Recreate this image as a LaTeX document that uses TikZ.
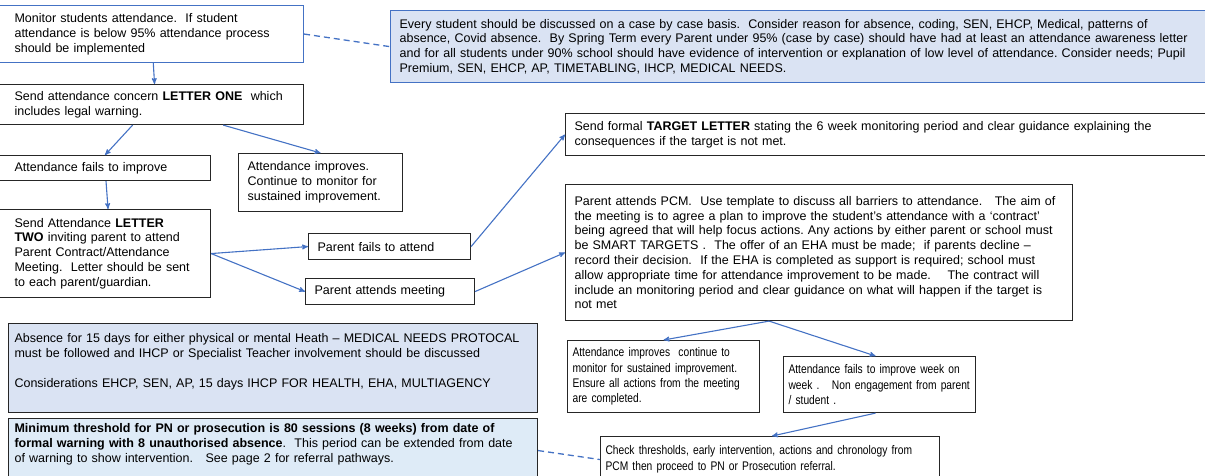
\documentclass[tikz,border=0pt]{standalone}
\usepackage{fontspec}
\setmainfont{Liberation Sans}
\newfontfamily\narrowfont{Liberation Sans}[FakeStretch=0.82]
\usepackage{tikz}
\usetikzlibrary{arrows}
\frenchspacing

\definecolor{msblue}{HTML}{4472C4}
\definecolor{notefill}{HTML}{DAE3F3}
\definecolor{lightfill}{HTML}{DEEBF7}
\definecolor{boxline}{HTML}{262626}

\begin{document}
\begin{tikzpicture}[x=1pt,y=-1pt,->,>=stealth',semithick]
\tikzstyle{every node}=[font=\fontsize{12.5}{14.8}\selectfont]
\tikzset{box/.style={draw=boxline,fill=white,anchor=north west,align=left,
                     inner xsep=9pt,inner ysep=0pt,line width=1.1pt},
         cutbox/.style={box,inner xsep=15pt},
         bluebox/.style={cutbox,draw=msblue},
         notebox/.style={box,draw=msblue,fill=notefill,line width=1.3pt},
         narrow/.style={box,font=\narrowfont\fontsize{12.5}{15.2}\selectfont,inner xsep=5pt},
         link/.style={every edge/.append style={draw=msblue,line width=1.1pt}},
         dashlink/.style={every edge/.append style={-,draw=msblue,line width=1.3pt,dash pattern=on 6pt off 4pt}}}
\useasboundingbox (0,0) rectangle (1205,475);

        % left column
        \node[bluebox, text width=274pt, minimum height=57pt]  (monitor)   at (-1,5)
             {Monitor students attendance.\ \ If student\\ attendance is below 95\% attendance process\\ should be implemented};
        \node[cutbox, text width=274pt, minimum height=40pt]   (letterone) at (-1,84)
             {Send attendance concern \textbf{LETTER ONE}\ \ which\\ includes legal warning.};
        \node[cutbox, text width=181pt, minimum height=25pt]   (fails)     at (-1,155)
             {Attendance fails to improve};
        \node[box, text width=146pt, minimum height=58pt]      (improves)  at (238,153)
             {Attendance improves.\\ Continue to monitor for\\ sustained improvement.};
        \node[cutbox, text width=181pt, minimum height=88pt]   (lettertwo) at (-1,209)
             {Send Attendance \textbf{LETTER}\\ \textbf{TWO} inviting parent to attend\\ Parent Contract/Attendance\\ Meeting.\ \ Letter should be sent\\ to each parent/guardian.};
        \node[box, text width=144pt, minimum height=26pt]      (noattend)  at (308,233)
             {Parent fails to attend};
        \node[box, text width=151pt, minimum height=26pt]      (attends)   at (305,278)
             {Parent attends meeting};

        % notes
        \node[notebox, text width=812pt, minimum height=72pt]  (every)     at (390,10)
             {Every student should be discussed on a case by case basis.\ \ Consider reason for absence, coding, SEN, EHCP, Medical, patterns of\\ absence, Covid absence.\ \ By Spring Term every Parent under 95\% (case by case) should have had at least an attendance awareness letter\\ and for all students under 90\% school should have evidence of intervention or explanation of low level of attendance. Consider needs; Pupil\\ Premium, SEN, EHCP, AP, TIMETABLING, IHCP, MEDICAL NEEDS.};
        \node[box, fill=notefill, inner xsep=6pt, text width=517pt, minimum height=89pt] (medical) at (8,323)
             {Absence for 15 days for either physical or mental Heath – MEDICAL NEEDS PROTOCAL\\ must be followed and IHCP or Specialist Teacher involvement should be discussed\\[\baselineskip] Considerations EHCP, SEN, AP, 15 days IHCP FOR HEALTH, EHA, MULTIAGENCY\\ \mbox{}};
        \node[box, fill=lightfill, inner xsep=6pt, text width=517pt, minimum height=64pt] (threshold) at (8,418)
             {\textbf{Minimum threshold for PN or prosecution is 80 sessions (8 weeks) from date of}\\ \textbf{formal warning with 8 unauthorised absence}.\ \ This period can be extended from date\\ of warning to show intervention.\ \ \ See page 2 for referral pathways.\\ \mbox{}};

        % right column
        \node[box, text width=642pt, minimum height=42pt]      (target)    at (565,113)
             {Send formal \textbf{TARGET LETTER} stating the 6 week monitoring period and clear guidance explaining the\\ consequences if the target is not met.};
        \node[box, text width=489pt, minimum height=136pt]     (pcm)       at (565,184)
             {Parent attends PCM.\ \ Use template to discuss all barriers to attendance.\ \ \ The aim of\\ the meeting is to agree a plan to improve the student’s attendance with a ‘contract’\\ being agreed that will help focus actions. Any actions by either parent or school must\\ be SMART TARGETS .\ \ The offer of an EHA must be made;\ \ if parents decline –\\ record their decision.\ \ If the EHA is completed as support is required; school must\\ allow appropriate time for attendance improvement to be made.\ \ \ \ The contract will\\ include an monitoring period and clear guidance on what will happen if the target is\\ not met};
        \node[narrow, text width=182pt, minimum height=72pt]   (better)    at (567,340)
             {Attendance improves\ \ continue to\\ monitor for sustained improvement.\\ Ensure all actions from the meeting\\ are completed.};
        \node[narrow, text width=182pt, minimum height=56pt]   (worse)     at (783,356)
             {Attendance fails to improve week on\\ week .\ \ \ Non engagement from parent\\ / student .};
        \node[narrow, text width=329pt, minimum height=58pt]   (check)     at (600,436)
             {Check thresholds, early intervention, actions and chronology from\\ PCM then proceed to PN or Prosecution referral.\\ \mbox{}};

        \path[link]
        (monitor)   edge ([xshift=3pt]letterone.north)
        (letterone) edge (fails.north)
        (letterone) edge (improves.north)
        (fails)     edge ([xshift=3pt]lettertwo.north)
        (lettertwo.east) edge (noattend.west)
        (lettertwo.east) edge (attends.west)
        (noattend.east)  edge (target.west)
        (attends.east)   edge (pcm.west)
        ([xshift=-50pt]pcm.south) edge (better.north)
        ([xshift=-50pt]pcm.south) edge ([xshift=-4pt]worse.north)
        ([xshift=-4pt]worse.south) edge ([xshift=2pt]check.north)
        ; %end path

        \path[dashlink]
        (monitor.east)   edge (every.west)
        (threshold.east) edge ([yshift=6pt]check.west)
        ;
\end{tikzpicture}
\end{document}
